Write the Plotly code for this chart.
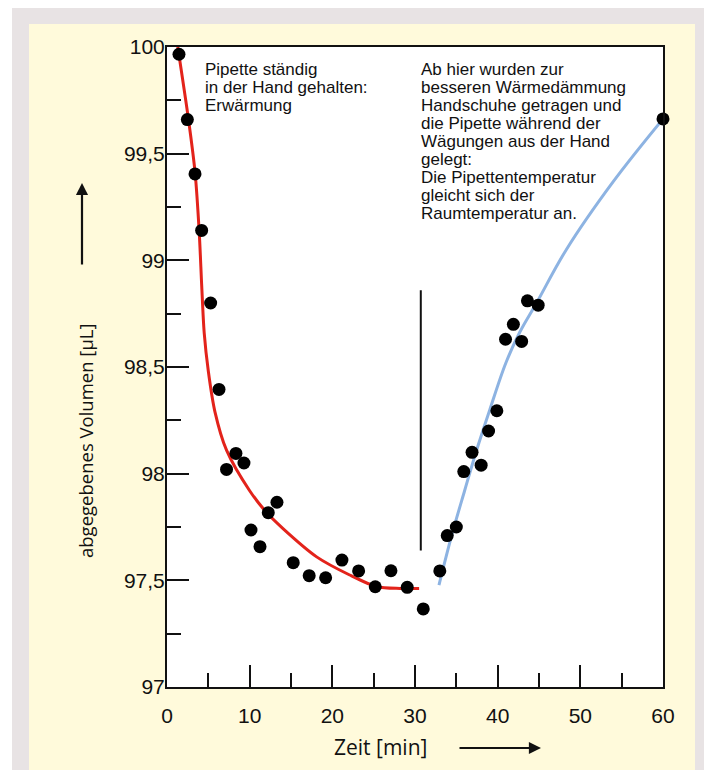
import plotly.graph_objects as go

# ---- data ----
point_t = [1.45, 2.46, 3.39, 4.19, 5.28, 6.29, 7.2, 8.34, 9.31, 10.16, 11.25, 12.25, 13.3,
           15.27, 17.2, 19.19, 21.16, 23.18, 25.19, 27.09, 29.06, 31.0,
           33.0, 33.9, 35.0, 35.9, 36.9, 38.0, 38.9, 39.9, 40.95, 41.9, 42.9, 43.6, 44.9, 60.0]
point_v = [99.966, 99.66, 99.405, 99.14, 98.80, 98.395, 98.02, 98.095, 98.05, 97.736, 97.658, 97.817, 97.866,
           97.583, 97.522, 97.512, 97.595, 97.544, 97.47, 97.545, 97.467, 97.366,
           97.544, 97.71, 97.75, 98.01, 98.10, 98.04, 98.20, 98.295, 98.63, 98.70, 98.62, 98.81, 98.79, 99.663]

red_t = [1.3, 2.6, 3.4, 3.9, 4.2, 4.5, 5.0, 5.8, 7.2, 10.0, 12.0, 14.1, 18.1, 22.1, 25.4, 28.2, 30.5]
red_v = [100.0, 99.66, 99.41, 99.13, 98.88, 98.66, 98.48, 98.29, 98.11, 97.92, 97.82, 97.74, 97.61, 97.525, 97.47, 97.462, 97.462]

blue_t = [32.9, 34.4, 36.0, 37.45, 39.05, 41.0, 42.7, 44.7, 48.3, 54.0, 60.0]
blue_v = [97.478, 97.705, 97.92, 98.11, 98.30, 98.52, 98.665, 98.80, 99.05, 99.37, 99.663]

marker_t = [30.7, 30.7]
marker_v = [97.64, 98.86]

x_ticks = [0, 10, 20, 30, 40, 50, 60]
y_ticks = [97, 97.5, 98, 98.5, 99, 99.5, 100]

left_note = ["Pipette ständig", "in der Hand gehalten:", "Erwärmung"]
right_note = ["Ab hier wurden zur", "besseren Wärmedämmung", "Handschuhe getragen und",
              "die Pipette während der", "Wägungen aus der Hand", "gelegt:",
              "Die Pipettentemperatur", "gleicht sich der", "Raumtemperatur an."]
x_title = "Zeit [min]"
y_title = "abgegebenes Volumen [µL]"

# ---- layout geometry (page pixels; the page body adds an 8 px offset) ----
OFF = 8
W, H = 712 - OFF, 770 - OFF
L, R, T, B = 167, 663, 47, 687
pw, ph = R - L, B - T


def px(x):
    return (x - L) / pw


def py(y):
    return (B - y) / ph


fig = go.Figure()

fig.add_trace(go.Scatter(x=red_t, y=red_v, mode="lines",
                         line=dict(color="#e3231b", width=3, shape="spline", smoothing=0.8),
                         hoverinfo="skip", cliponaxis=False))
fig.add_trace(go.Scatter(x=blue_t, y=blue_v, mode="lines",
                         line=dict(color="#8db3e2", width=3, shape="spline", smoothing=1.0),
                         hoverinfo="skip", cliponaxis=False))
fig.add_trace(go.Scatter(x=marker_t, y=marker_v, mode="lines",
                         line=dict(color="#111111", width=2), hoverinfo="skip"))
fig.add_trace(go.Scatter(x=point_t, y=point_v, mode="markers",
                         marker=dict(color="black", size=13), cliponaxis=False))

shapes = [
    dict(type="rect", xref="paper", yref="paper", x0=px(12), x1=px(720), y0=py(7), y1=py(780),
         fillcolor="#e8e3e4", line=dict(width=0), layer="below"),
    dict(type="rect", xref="paper", yref="paper", x0=px(29), x1=px(695), y0=py(24), y1=py(780),
         fillcolor="#fffadb", line=dict(width=0), layer="below"),
    dict(type="rect", xref="paper", yref="paper", x0=0, x1=1, y0=0, y1=1,
         fillcolor="white", line=dict(width=0), layer="below"),
]

ann = []
pitch = 17.9
for i, s in enumerate(left_note):
    ann.append(dict(x=px(203), y=py(70 + i * pitch), xref="paper", yref="paper", text=s,
                    showarrow=False, xanchor="left", yanchor="middle",
                    font=dict(family="Liberation Sans", size=17, color="#111")))
for i, s in enumerate(right_note):
    ann.append(dict(x=px(418.5), y=py(70 + i * pitch), xref="paper", yref="paper", text=s,
                    showarrow=False, xanchor="left", yanchor="middle",
                    font=dict(family="Liberation Sans", size=17, color="#111")))

ann.append(dict(x=px(380), y=py(747), xref="paper", yref="paper", text=x_title, showarrow=False,
                xanchor="center", yanchor="middle",
                font=dict(family="Open Sans", size=21, color="#111")))
ann.append(dict(x=px(85), y=py(441), xref="paper", yref="paper", text=y_title, showarrow=False,
                xanchor="center", yanchor="middle",
                textangle=-90, font=dict(family="Open Sans", size=18.5, color="#111")))
# arrows
ann.append(dict(x=px(541), y=py(748), xref="paper", yref="paper", text="", showarrow=True,
                ax=-83, ay=0, arrowhead=2, arrowsize=1.1, arrowwidth=2.2, arrowcolor="#111"))
ann.append(dict(x=px(82), y=py(183), xref="paper", yref="paper", text="", showarrow=True,
                ax=0, ay=83, arrowhead=2, arrowsize=1.1, arrowwidth=2.2, arrowcolor="#111"))

fig.update_layout(
    width=W, height=H,
    margin=dict(l=L - OFF, r=W - (R - OFF), t=T - OFF, b=H - (B - OFF), pad=0),
    paper_bgcolor="white", plot_bgcolor="white",
    showlegend=False, separators=",.",
    shapes=shapes, annotations=ann,
    font=dict(family="Liberation Sans", size=21, color="#111"),
)
fig.update_xaxes(range=[0, 60], tickvals=x_ticks, ticks="inside", ticklen=22, tickwidth=2,
                 tickcolor="#111", showline=True, linewidth=2, linecolor="#111", mirror=True,
                 showgrid=False, zeroline=False, ticklabelstandoff=9,
                 minor=dict(dtick=5, tick0=0, ticks="inside", ticklen=14, tickwidth=2,
                            tickcolor="#111", showgrid=False),
                 tickfont=dict(family="Liberation Sans", size=21, color="#111"))
fig.update_yaxes(range=[97, 100], tickvals=y_ticks, ticks="inside", ticklen=22, tickwidth=2,
                 tickcolor="#111", showline=True, linewidth=2, linecolor="#111", mirror=True,
                 showgrid=False, zeroline=False, ticklabelstandoff=-4,
                 minor=dict(dtick=0.25, tick0=97, ticks="inside", ticklen=14, tickwidth=2,
                            tickcolor="#111", showgrid=False),
                 tickfont=dict(family="Liberation Sans", size=21, color="#111"))

fig.write_html("out.html")
